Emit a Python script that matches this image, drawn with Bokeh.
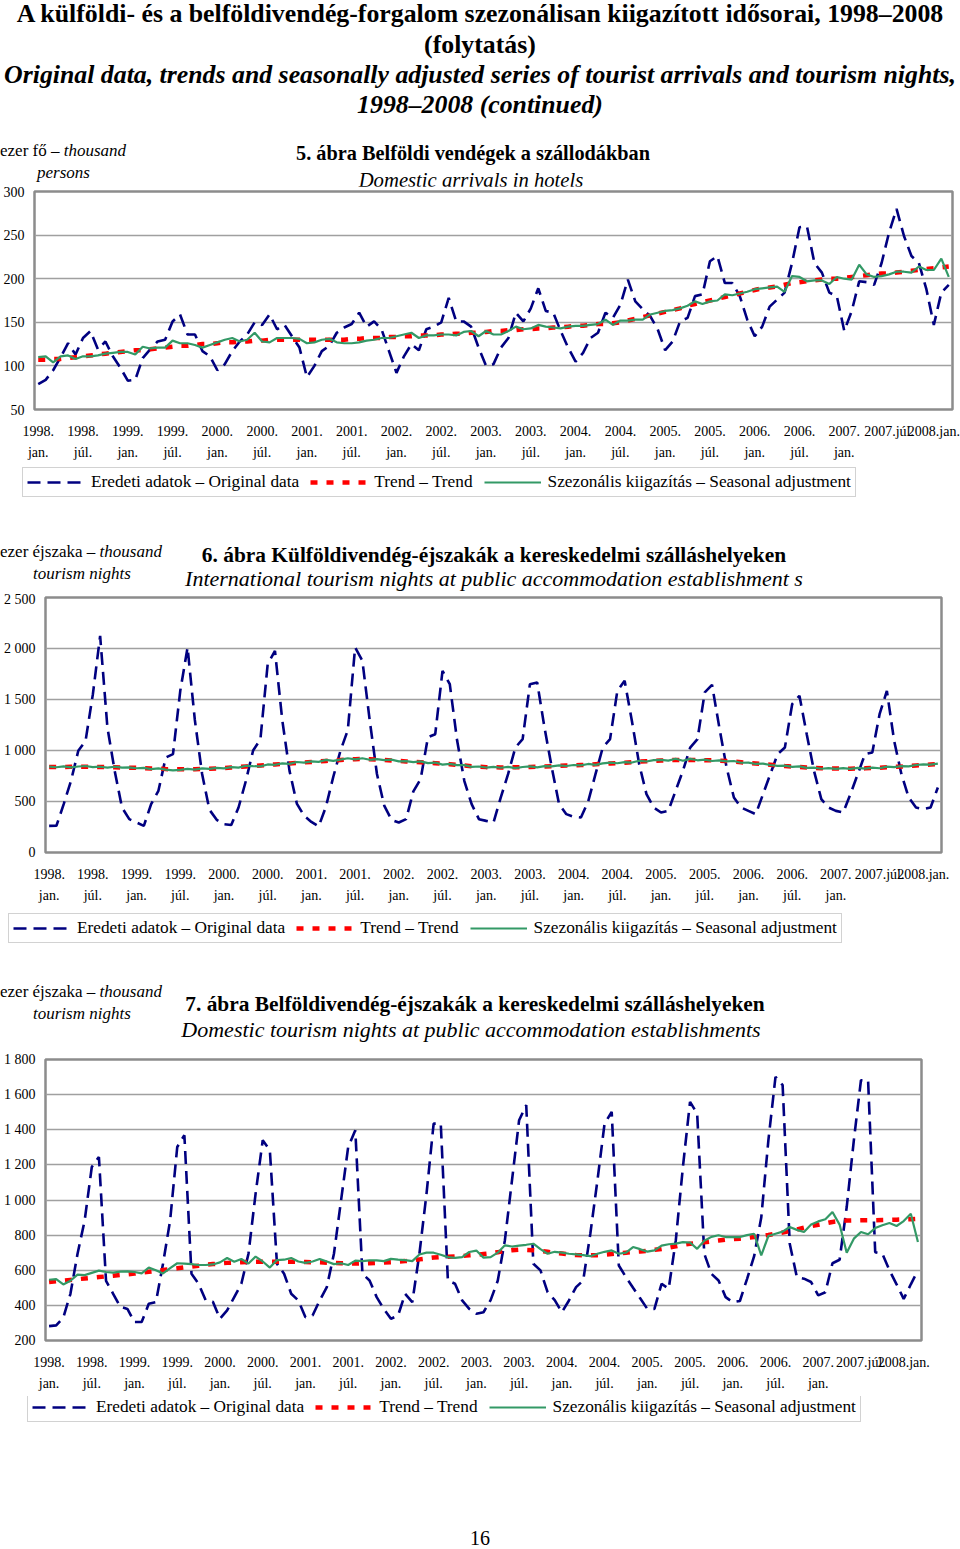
from bokeh.plotting import figure
from bokeh.models import Range1d, FixedTicker, Legend, LegendItem, Div, Spacer, ColumnDataSource
from bokeh.layouts import column
from bokeh.embed import file_html
from bokeh.resources import INLINE

# ---------------- data ----------------
month_index = list(range(123))  # 1998 jan ... 2008 mar
x_tick_pos = [0, 6, 12, 18, 24, 30, 36, 42, 48, 54, 60, 66, 72, 78, 84, 90, 96, 102, 108, 114, 120]
x_tick_labels = ["1998.\njan.", "1998.\njúl.", "1999.\njan.", "1999.\njúl.", "2000.\njan.", "2000.\njúl.",
                 "2001.\njan.", "2001.\njúl.", "2002.\njan.", "2002.\njúl.", "2003.\njan.", "2003.\njúl.",
                 "2004.\njan.", "2004.\njúl.", "2005.\njan.", "2005.\njúl.", "2006.\njan.", "2006.\njúl.",
                 "2007.\njan.", "2007.júl.", "2008.jan."]
legend_labels = ["Eredeti adatok – Original data", "Trend – Trend", "Szezonális kiigazítás – Seasonal adjustment"]

# 5. Domestic arrivals in hotels (thousand persons)
orig5 = [79, 84, 95, 110, 126, 113, 132, 140, 119, 128, 111, 98,
         83, 84, 109, 119, 128, 130, 151, 159, 136, 136, 117, 111,
         95, 102, 117, 128, 136, 150, 147, 159, 142, 147, 134, 121,
         87, 100, 117, 123, 138, 144, 148, 161, 145, 151, 142, 117,
         92, 111, 125, 118, 142, 145, 150, 178, 151, 151, 145, 121,
         100, 102, 121, 132, 161, 151, 166, 189, 163, 161, 140, 121,
         105, 115, 132, 138, 161, 155, 170, 199, 174, 165, 157, 142,
         118, 128, 151, 155, 180, 182, 220, 226, 195, 195, 180, 153,
         134, 145, 168, 176, 184, 218, 259, 260, 218, 207, 184, 180,
         140, 163, 197, 196, 193, 218, 253, 280, 249, 226, 218, 188,
         147, 184, 193]
trend5 = [107, 107, 108, 108, 109, 110, 111, 112, 113, 114, 115, 116,
          117, 118, 118, 119, 120, 121, 122, 123, 123, 124, 125, 125,
          126, 127, 127, 128, 128, 129, 129, 130, 130, 130, 130, 130,
          130, 130, 130, 130, 130, 130, 131, 131, 132, 132, 132, 133,
          133, 134, 134, 135, 135, 135, 136, 136, 137, 137, 138, 138,
          139, 140, 140, 141, 141, 142, 142, 143, 143, 144, 144, 145,
          146, 146, 147, 148, 148, 149, 150, 152, 154, 156, 158, 160,
          162, 164, 166, 169, 171, 173, 175, 177, 179, 181, 183, 185,
          187, 189, 190, 191, 193, 195, 196, 197, 198, 199, 200, 200,
          201, 202, 203, 204, 205, 206, 206, 207, 208, 209, 210, 211,
          212, 213, 214]
sa5 = [110, 111, 104, 111, 112, 108, 111, 111, 112, 114, 115, 116,
       116, 113, 122, 120, 121, 121, 129, 126, 126, 124, 121, 124,
       127, 130, 132, 128, 130, 138, 128, 127, 132, 132, 132, 131,
       126, 127, 130, 131, 127, 126, 126, 127, 129, 130, 132, 132,
       134, 136, 138, 132, 135, 135, 136, 136, 135, 139, 140, 134,
       140, 136, 136, 140, 145, 142, 143, 147, 145, 144, 143, 145,
       146, 146, 147, 148, 153, 147, 152, 152, 153, 153, 159, 161,
       163, 164, 166, 169, 174, 171, 174, 175, 182, 181, 183, 185,
       188, 189, 190, 191, 185, 203, 202, 197, 198, 198, 194, 202,
       200, 199, 216, 205, 202, 203, 205, 208, 208, 207, 214, 210,
       210, 223, 202]

# 6. International tourism nights (thousand nights)
orig6 = [261, 262, 474, 703, 997, 1095, 1550, 2124, 1225, 800, 441, 327,
         294, 261, 474, 605, 931, 964, 1585, 2010, 1300, 770, 420, 320,
         278, 270, 441, 700, 1000, 1110, 1846, 1977, 1300, 800, 480, 360,
         300, 255, 450, 740, 1000, 1200, 2010, 1880, 1300, 770, 460, 320,
         294, 327, 600, 720, 1130, 1160, 1781, 1650, 1100, 700, 474, 327,
         310, 294, 540, 768, 1029, 1111, 1650, 1667, 1225, 833, 474, 376,
         350, 343, 500, 768, 1029, 1111, 1585, 1683, 1290, 866, 572, 441,
         392, 408, 605, 800, 1029, 1111, 1569, 1644, 1225, 833, 539, 441,
         408, 376, 572, 768, 964, 1029, 1454, 1536, 1160, 800, 523, 441,
         408, 392, 572, 768, 964, 980, 1356, 1585, 1095, 768, 539, 441,
         425, 441, 637]
trend6 = [838, 838, 839, 840, 840, 840, 840, 839, 838, 836, 834, 832,
          830, 827, 824, 821, 818, 816, 815, 815, 816, 818, 821, 824,
          828, 833, 838, 843, 848, 853, 858, 863, 868, 873, 878, 883,
          888, 893, 898, 903, 908, 912, 915, 916, 915, 912, 908, 903,
          898, 893, 888, 884, 880, 876, 872, 866, 859, 852, 846, 841,
          837, 835, 834, 834, 835, 836, 838, 840, 843, 846, 849, 852,
          853, 857, 861, 865, 869, 873, 877, 881, 886, 891, 895, 899,
          902, 905, 907, 908, 908, 907, 905, 903, 900, 896, 891, 885,
          878, 872, 866, 860, 854, 848, 843, 838, 834, 830, 827, 825,
          823, 822, 822, 823, 825, 828, 831, 835, 839, 843, 848, 853,
          858, 863, 868]
sa6 = [842, 836, 845, 835, 843, 848, 837, 841, 832, 841, 833, 835,
       826, 829, 817, 824, 812, 806, 810, 819, 813, 824, 819, 829,
       825, 837, 832, 850, 846, 845, 863, 860, 874, 869, 887, 881,
       894, 888, 908, 899, 911, 924, 913, 924, 909, 916, 905, 910,
       893, 896, 886, 893, 876, 882, 862, 869, 857, 857, 840, 843,
       833, 840, 831, 840, 827, 838, 845, 835, 846, 844, 855, 848,
       858, 854, 868, 859, 873, 882, 875, 886, 882, 899, 892, 905,
       909, 901, 919, 900, 918, 904, 910, 897, 904, 894, 897, 880,
       881, 868, 872, 858, 849, 852, 840, 844, 830, 832, 821, 828,
       819, 827, 820, 829, 822, 832, 826, 842, 837, 847, 845, 858,
       864, 861, 872]

# 7. Domestic tourism nights (thousand nights)
orig7 = [282, 286, 330, 466, 694, 884, 1188, 1245, 540, 466, 392, 380,
         305, 305, 409, 418, 637, 884, 1302, 1369, 580, 523, 428, 420,
         324, 371, 447, 523, 694, 1036, 1340, 1283, 637, 580, 466, 428,
         333, 342, 428, 504, 694, 998, 1302, 1397, 580, 542, 447, 380,
         324, 342, 466, 418, 694, 1036, 1435, 1435, 542, 523, 428, 380,
         352, 361, 430, 540, 770, 1112, 1454, 1540, 637, 599, 475, 430,
         361, 428, 504, 542, 808, 1112, 1435, 1502, 627, 561, 500, 440,
         380, 380, 523, 494, 770, 1188, 1559, 1492, 694, 580, 542, 447,
         418, 425, 550, 680, 900, 1340, 1701, 1654, 751, 561, 552, 533,
         457, 475, 640, 660, 960, 1340, 1682, 1682, 703, 694, 600, 520,
         437, 520, 599]
trend7 = [533, 537, 541, 545, 549, 553, 557, 561, 565, 569, 573, 577,
          581, 586, 591, 596, 601, 606, 611, 616, 621, 626, 631, 635,
          639, 642, 644, 646, 647, 648, 649, 649, 649, 649, 648, 648,
          647, 646, 645, 643, 641, 640, 638, 638, 639, 640, 642, 644,
          646, 649, 652, 656, 662, 667, 672, 675, 677, 679, 681, 685,
          688, 692, 696, 703, 710, 714, 717, 716, 714, 710, 705, 700,
          695, 690, 687, 685, 685, 686, 688, 692, 696, 700, 704, 707,
          711, 716, 721, 728, 736, 745, 751, 755, 759, 764, 769, 774,
          777, 780, 784, 789, 795, 801, 808, 815, 823, 832, 842, 851,
          859, 867, 875, 880, 883, 884, 885, 885, 885, 886, 887, 888,
          889, 891, 893]
sa7 = [546, 550, 519, 540, 575, 572, 585, 598, 590, 586, 592, 594,
       590, 582, 615, 600, 582, 612, 640, 638, 635, 630, 630, 633,
       645, 670, 648, 664, 638, 678, 650, 615, 658, 660, 670, 650,
       642, 650, 664, 650, 635, 640, 630, 655, 652, 656, 656, 652,
       665, 660, 658, 652, 690, 700, 700, 688, 675, 671, 675, 704,
       712, 672, 675, 700, 742, 735, 740, 745, 751, 720, 694, 705,
       700, 694, 690, 686, 680, 694, 705, 713, 694, 700, 732, 720,
       706, 713, 740, 748, 752, 760, 758, 722, 768, 790, 799, 789,
       789, 789, 800, 808, 685, 795, 808, 820, 846, 830, 818, 860,
       878, 890, 932, 860, 700, 780, 818, 805, 840, 856, 869, 852,
       880, 922, 761]

y5_ticks = [50, 100, 150, 200, 250, 300]
y5_labels = ["50", "100", "150", "200", "250", "300"]
y6_ticks = [0, 500, 1000, 1500, 2000, 2500]
y6_labels = ["0", "500", "1 000", "1 500", "2 000", "2 500"]
y7_ticks = [200, 400, 600, 800, 1000, 1200, 1400, 1600, 1800]
y7_labels = ["200", "400", "600", "800", "1 000", "1 200", "1 400", "1 600", "1 800"]

# ---------------- styling ----------------
FONT = "Liberation Serif"
NAVY = "#000080"
RED = "#ff0000"
GREEN = "#339966"
W = 960
NAN = float("nan")
ORIG_STYLE = dict(line_color=NAVY, line_width=2.6, line_dash="13 7")
TREND_STYLE = dict(line_color=RED, line_width=4.5, line_dash="7 9")
SA_STYLE = dict(line_color=GREEN, line_width=2.2)


def make_chart(orig, trend, sa, y_lo, y_hi, y_ticks, y_labels, h, bl, fw, bt, fh):
    p = figure(width=W, height=h, output_backend="svg", toolbar_location=None,
               x_range=Range1d(-0.5, len(month_index) - 0.5), y_range=Range1d(y_lo, y_hi),
               frame_width=fw, frame_height=fh,
               min_border_left=bl, min_border_right=W - bl - fw, min_border_top=bt,
               min_border_bottom=h - bt - fh,
               border_fill_color="white", background_fill_color="white",
               outline_line_color="#8c8c8c", outline_line_width=2.5)
    if "frame_align" in p.properties():
        p.frame_align = False
    src = ColumnDataSource(dict(m=month_index, orig=orig, trend=trend, sa=sa))
    p.line("m", "orig", source=src, **ORIG_STYLE)
    p.line("m", "trend", source=src, **TREND_STYLE)
    p.line("m", "sa", source=src, **SA_STYLE)

    xa = p.xaxis[0]
    ya = p.yaxis[0]
    xa.ticker = FixedTicker(ticks=x_tick_pos)
    xa.major_label_overrides = dict(zip(x_tick_pos, x_tick_labels))
    ya.ticker = FixedTicker(ticks=y_ticks)
    ya.major_label_overrides = dict(zip(y_ticks, y_labels))
    for ax in (xa, ya):
        ax.axis_line_color = None
        ax.major_tick_line_color = None
        ax.minor_tick_line_color = None
        ax.major_tick_out = 0
        ax.major_tick_in = 0
        ax.minor_tick_out = 0
        ax.minor_tick_in = 0
        ax.major_label_text_font = FONT
        ax.major_label_text_font_size = "14px"
        ax.major_label_text_color = "black"
    xa.major_label_standoff = 14
    xa.major_label_text_line_height = 1.45
    ya.major_label_standoff = 10
    p.xgrid.visible = False
    p.ygrid.ticker = ya.ticker
    p.ygrid.grid_line_color = "#a0a0a0"
    p.ygrid.grid_line_width = 1.3
    return p


def make_legend(h, lx, ly):
    lp = figure(width=W, height=h, output_backend="svg", toolbar_location=None,
                x_range=Range1d(0, 1), y_range=Range1d(0, 1), min_border=0,
                x_axis_location=None, y_axis_location=None,
                outline_line_color=None, border_fill_color="white", background_fill_color="white")
    if "frame_align" in lp.properties():
        lp.frame_align = False
    lp.xgrid.visible = False
    lp.ygrid.visible = False
    # legend-only renderers (no visible data)
    r_o = lp.line(x=[NAN, NAN], y=[NAN, NAN], **ORIG_STYLE)
    r_t = lp.line(x=[NAN, NAN], y=[NAN, NAN], **TREND_STYLE)
    r_s = lp.line(x=[NAN, NAN], y=[NAN, NAN], **SA_STYLE)
    legend = Legend(items=[LegendItem(label=legend_labels[0], renderers=[r_o]),
                           LegendItem(label=legend_labels[1], renderers=[r_t]),
                           LegendItem(label=legend_labels[2], renderers=[r_s])],
                    orientation="horizontal", location=(lx, ly), margin=0, padding=4,
                    spacing=11, glyph_width=57, glyph_height=18, label_height=18,
                    label_standoff=7, label_text_font=FONT, label_text_font_size="17.3px",
                    label_text_color="black", border_line_color="#a6a6a6", border_line_width=1.5,
                    background_fill_color="white", background_fill_alpha=1.0)
    lp.add_layout(legend)
    return lp


def hdiv(height, parts):
    inner = ""
    for (l, t, w, al, fs, lh, fw, st, txt) in parts:
        inner += (f'<div style="position:absolute;left:{l}px;top:{t}px;width:{w}px;text-align:{al};'
                  f"font-family:'{FONT}';font-size:{fs}px;line-height:{lh}px;font-weight:{fw};"
                  f'font-style:{st};white-space:nowrap;color:#000;">{txt}</div>')
    return Div(text=f'<div style="position:relative;width:{W}px;height:{height}px;">{inner}</div>',
               width=W, height=height, margin=0)


title_div = hdiv(140, [
    (0, 0, W, "center", 25.8, 28, "bold", "normal",
     "A külföldi- és a belföldivendég-forgalom szezonálisan kiigazított idősorai, 1998–2008"),
    (0, 31, W, "center", 25.8, 28, "bold", "normal", "(folytatás)"),
    (0, 61, W, "center", 25.8, 28, "bold", "italic",
     "Original data, trends and seasonally adjusted series of tourist arrivals and tourism nights,"),
    (0, 91, W, "center", 25.8, 28, "bold", "italic", "1998–2008 (continued)"),
])

head5 = hdiv(46, [
    (0, 2, 300, "left", 17, 18, "normal", "normal", "ezer fő – <i>thousand</i>"),
    (37, 24, 200, "left", 17, 18, "normal", "italic", "persons"),
    (73, 3, 800, "center", 20.3, 20, "bold", "normal", "5. ábra Belföldi vendégek a szállodákban"),
    (71, 30, 800, "center", 20.7, 20, "normal", "italic", "Domestic arrivals in hotels"),
])
head6 = hdiv(51, [
    (0, 3, 300, "left", 17, 18, "normal", "normal", "ezer éjszaka – <i>thousand</i>"),
    (33, 25, 200, "left", 17, 18, "normal", "italic", "tourism nights"),
    (94, 5, 800, "center", 21.4, 20, "bold", "normal",
     "6. ábra Külföldivendég-éjszakák a kereskedelmi szálláshelyeken"),
    (94, 29, 800, "center", 22, 20, "normal", "italic",
     "International tourism nights at public accommodation establishment s"),
])
head7 = hdiv(69, [
    (0, 3, 300, "left", 17, 18, "normal", "normal", "ezer éjszaka – <i>thousand</i>"),
    (33, 25, 200, "left", 17, 18, "normal", "italic", "tourism nights"),
    (75, 14, 800, "center", 21.4, 20, "bold", "normal",
     "7. ábra Belföldivendég-éjszakák a kereskedelmi szálláshelyeken"),
    (71, 40, 800, "center", 22, 20, "normal", "italic",
     "Domestic tourism nights at public accommodation establishments"),
])
foot = hdiv(119, [(0, 97, W, "center", 20, 22, "normal", "normal", "16")])

p5 = make_chart(orig5, trend5, sa5, 50, 300, y5_ticks, y5_labels, 279, 33, 918, 5, 218)
p6 = make_chart(orig6, trend6, sa6, 0, 2500, y6_ticks, y6_labels, 317, 44, 896, 6, 255)
p7 = make_chart(orig7, trend7, sa7, 200, 1800, y7_ticks, y7_labels, 347, 44, 876, 10, 281)
leg5 = make_legend(40, 22, 8)
leg6 = make_legend(42, 8, 7)
leg7 = make_legend(34, 27, 8)

layout = column(title_div, head5, p5, leg5, Spacer(width=W, height=35, margin=0), head6, p6, leg6,
                Spacer(width=W, height=30, margin=0), head7, p7, leg7, foot, spacing=0)

open("out.html", "w").write(file_html(layout, INLINE))
